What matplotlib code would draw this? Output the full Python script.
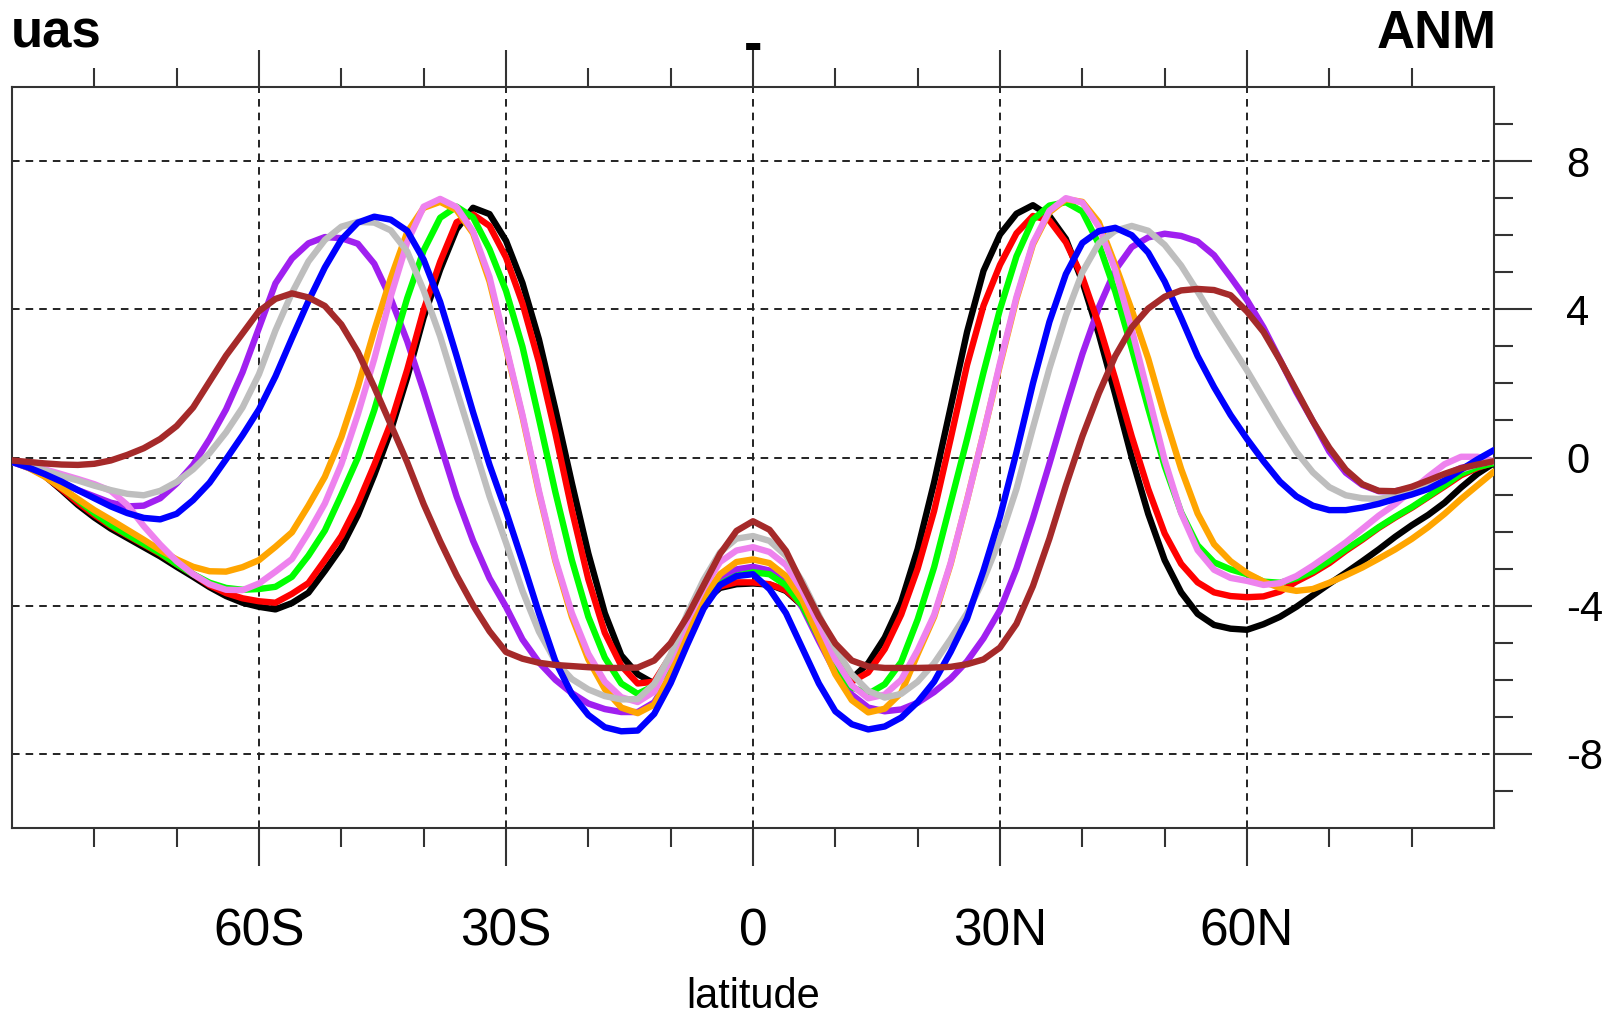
import matplotlib
matplotlib.use('Agg')
import matplotlib.pyplot as plt
import numpy as np

plt.rcParams['font.family'] = ['Liberation Sans', 'DejaVu Sans']

# zonal-mean surface zonal wind, one profile per run, 2-degree latitude grid
lat = np.arange(-90, 91, 2)

uas_black = [
    -0.10, -0.25, -0.50, -0.88, -1.28, -1.62, -1.92, -2.17, -2.42, -2.67,
    -2.95, -3.22, -3.50, -3.74, -3.92, -4.03, -4.10, -3.93, -3.65, -3.06,
    -2.43, -1.56, -0.47, 0.72, 2.16, 3.78, 5.07, 6.16, 6.74, 6.57,
    5.85, 4.71, 3.19, 1.30, -0.69, -2.59, -4.20, -5.34, -5.85, -6.10,
    -5.50, -4.58, -3.90, -3.52, -3.42, -3.40, -3.43, -3.60, -4.00, -4.70,
    -5.50, -5.97, -5.55, -4.86, -3.90, -2.47, -0.67, 1.35, 3.39, 5.04,
    6.02, 6.58, 6.81, 6.52, 5.90, 4.75, 3.33, 1.70, 0.00, -1.52,
    -2.77, -3.64, -4.22, -4.52, -4.62, -4.65, -4.50, -4.30, -4.03, -3.72,
    -3.41, -3.11, -2.80, -2.48, -2.14, -1.83, -1.55, -1.22, -0.81, -0.44,
    -0.15]

uas_red = [
    -0.10, -0.25, -0.50, -0.85, -1.22, -1.55, -1.85, -2.10, -2.35, -2.60,
    -2.88, -3.15, -3.45, -3.66, -3.80, -3.88, -3.92, -3.68, -3.39, -2.77,
    -2.12, -1.25, -0.20, 0.93, 2.37, 3.99, 5.28, 6.35, 6.56, 6.25,
    5.40, 4.16, 2.57, 0.65, -1.42, -3.29, -4.73, -5.62, -6.10, -6.05,
    -5.35, -4.49, -3.83, -3.48, -3.37, -3.37, -3.42, -3.58, -3.98, -4.65,
    -5.45, -6.05, -5.80, -5.17, -4.24, -3.00, -1.44, 0.50, 2.50, 4.10,
    5.20, 6.05, 6.52, 6.40, 5.81, 4.87, 3.59, 2.12, 0.57, -0.85,
    -2.05, -2.87, -3.37, -3.64, -3.74, -3.77, -3.75, -3.62, -3.35, -3.12,
    -2.85, -2.52, -2.22, -1.90, -1.62, -1.36, -1.07, -0.78, -0.48, -0.28,
    -0.13]

uas_green = [
    -0.10, -0.25, -0.48, -0.80, -1.15, -1.50, -1.82, -2.08, -2.33, -2.58,
    -2.88, -3.15, -3.38, -3.52, -3.57, -3.55, -3.49, -3.22, -2.65, -1.97,
    -1.01, -0.01, 1.28, 2.80, 4.30, 5.59, 6.47, 6.77, 6.48, 5.62,
    4.50, 2.99, 1.05, -0.94, -2.77, -4.30, -5.40, -6.10, -6.38, -6.16,
    -5.66, -4.75, -3.91, -3.41, -3.19, -3.10, -3.15, -3.45, -4.00, -4.85,
    -5.70, -6.20, -6.38, -6.12, -5.52, -4.37, -2.96, -1.23, 0.50, 2.30,
    4.00, 5.43, 6.42, 6.80, 6.89, 6.64, 5.76, 4.48, 2.95, 1.33,
    -0.23, -1.48, -2.37, -2.83, -3.02, -3.15, -3.35, -3.38, -3.26, -3.07,
    -2.79, -2.48, -2.19, -1.88, -1.60, -1.34, -1.05, -0.75, -0.44, -0.26,
    -0.15]

uas_orange = [
    -0.10, -0.28, -0.52, -0.82, -1.12, -1.42, -1.68, -1.95, -2.22, -2.50,
    -2.75, -2.95, -3.07, -3.08, -2.96, -2.77, -2.41, -2.02, -1.30, -0.52,
    0.55, 1.90, 3.43, 4.84, 6.08, 6.74, 6.90, 6.68, 6.05, 4.75,
    2.95, 1.10, -0.95, -2.80, -4.30, -5.45, -6.25, -6.75, -6.90, -6.67,
    -5.84, -4.81, -3.77, -3.15, -2.82, -2.75, -2.85, -3.20, -3.85, -4.85,
    -5.85, -6.55, -6.88, -6.78, -6.35, -5.30, -4.30, -2.88, -1.15, 0.65,
    2.50, 4.28, 5.75, 6.62, 6.97, 6.90, 6.35, 5.20, 3.98, 2.67,
    1.12, -0.31, -1.51, -2.34, -2.80, -3.12, -3.35, -3.52, -3.60, -3.55,
    -3.38, -3.18, -2.97, -2.73, -2.48, -2.20, -1.88, -1.52, -1.12, -0.75,
    -0.38]

uas_violet = [
    -0.10, -0.20, -0.32, -0.45, -0.58, -0.72, -0.90, -1.28, -1.85, -2.35,
    -2.80, -3.15, -3.42, -3.57, -3.58, -3.40, -3.08, -2.74, -2.03, -1.24,
    -0.18, 1.16, 2.66, 4.35, 5.81, 6.77, 6.98, 6.76, 6.10, 4.87,
    3.00, 1.15, -0.90, -2.75, -4.20, -5.30, -6.05, -6.47, -6.60, -6.32,
    -5.44, -4.42, -3.53, -2.82, -2.51, -2.42, -2.55, -2.90, -3.60, -4.50,
    -5.45, -6.15, -6.50, -6.40, -6.00, -5.20, -4.25, -2.85, -1.15, 0.65,
    2.55, 4.33, 5.79, 6.66, 7.00, 6.88, 6.23, 5.06, 3.46, 1.70,
    -0.07, -1.50, -2.50, -3.03, -3.25, -3.33, -3.44, -3.39, -3.20, -2.92,
    -2.61, -2.29, -1.93, -1.57, -1.26, -0.89, -0.52, -0.18, 0.02, 0.02,
    -0.10]

uas_gray = [
    -0.12, -0.22, -0.35, -0.50, -0.62, -0.76, -0.88, -0.98, -1.02, -0.90,
    -0.66, -0.32, 0.12, 0.68, 1.35, 2.25, 3.43, 4.44, 5.29, 5.87,
    6.23, 6.36, 6.34, 6.13, 5.56, 4.51, 3.27, 1.82, 0.39, -1.05,
    -2.30, -3.60, -4.70, -5.50, -5.98, -6.26, -6.44, -6.53, -6.52, -6.11,
    -5.31, -4.22, -3.30, -2.56, -2.19, -2.12, -2.25, -2.65, -3.35, -4.25,
    -5.15, -5.85, -6.30, -6.48, -6.38, -6.05, -5.55, -4.90, -4.20, -3.30,
    -2.20, -0.85, 0.80, 2.40, 3.82, 5.00, 5.78, 6.12, 6.25, 6.12,
    5.74, 5.18, 4.48, 3.75, 3.05, 2.35, 1.60, 0.85, 0.15, -0.40,
    -0.80, -1.02, -1.10, -1.12, -1.04, -0.90, -0.72, -0.52, -0.33, -0.18,
    -0.10]

uas_blue = [
    -0.12, -0.27, -0.45, -0.65, -0.88, -1.10, -1.32, -1.50, -1.63, -1.67,
    -1.52, -1.15, -0.68, -0.05, 0.60, 1.30, 2.19, 3.22, 4.22, 5.13,
    5.88, 6.34, 6.50, 6.42, 6.12, 5.34, 4.20, 2.74, 1.22, -0.20,
    -1.45, -2.80, -4.20, -5.50, -6.39, -6.95, -7.28, -7.39, -7.37, -6.92,
    -6.09, -5.06, -4.08, -3.44, -3.20, -3.15, -3.55, -4.20, -5.15, -6.10,
    -6.85, -7.20, -7.34, -7.26, -7.02, -6.60, -6.05, -5.25, -4.35, -3.05,
    -1.60, 0.14, 2.00, 3.66, 4.95, 5.79, 6.11, 6.20, 6.00, 5.53,
    4.75, 3.77, 2.74, 1.90, 1.15, 0.50, -0.10, -0.65, -1.05, -1.30,
    -1.42, -1.42, -1.35, -1.25, -1.12, -1.00, -0.85, -0.62, -0.33, -0.05,
    0.20]

uas_purple = [
    -0.12, -0.28, -0.47, -0.68, -0.88, -1.05, -1.22, -1.32, -1.30, -1.10,
    -0.70, -0.20, 0.50, 1.30, 2.30, 3.50, 4.70, 5.37, 5.78, 5.95,
    5.92, 5.77, 5.23, 4.29, 3.14, 1.79, 0.37, -1.05, -2.25, -3.26,
    -4.03, -4.91, -5.53, -6.00, -6.36, -6.64, -6.79, -6.87, -6.87, -6.61,
    -5.89, -4.86, -3.90, -3.30, -3.02, -2.95, -3.05, -3.40, -4.05, -4.95,
    -5.80, -6.40, -6.75, -6.85, -6.80, -6.62, -6.33, -5.97, -5.50, -4.88,
    -4.12, -3.00, -1.64, -0.17, 1.35, 2.79, 4.05, 5.06, 5.68, 5.94,
    6.04, 5.98, 5.83, 5.46, 4.87, 4.25, 3.51, 2.64, 1.76, 0.98,
    0.16, -0.41, -0.74, -0.91, -0.91, -0.83, -0.64, -0.47, -0.28, -0.18,
    -0.10]

uas_brown = [
    -0.08, -0.12, -0.16, -0.19, -0.20, -0.17, -0.08, 0.07, 0.25, 0.50,
    0.85, 1.35, 2.05, 2.75, 3.35, 3.95, 4.28, 4.43, 4.32, 4.09,
    3.59, 2.85, 1.90, 0.89, -0.13, -1.26, -2.26, -3.18, -3.99, -4.69,
    -5.25, -5.43, -5.54, -5.60, -5.63, -5.66, -5.68, -5.68, -5.67, -5.48,
    -5.01, -4.30, -3.45, -2.60, -1.98, -1.72, -1.95, -2.52, -3.43, -4.30,
    -5.02, -5.48, -5.64, -5.68, -5.68, -5.68, -5.67, -5.65, -5.58, -5.45,
    -5.13, -4.49, -3.47, -2.19, -0.76, 0.57, 1.73, 2.74, 3.51, 4.02,
    4.34, 4.51, 4.55, 4.52, 4.38, 3.94, 3.39, 2.63, 1.81, 0.98,
    0.26, -0.33, -0.72, -0.90, -0.91, -0.79, -0.62, -0.44, -0.29, -0.19,
    -0.10]

xtick_pos = [-60, -30, 0, 30, 60]
xtick_labels = ['60S', '30S', '0', '30N', '60N']
ytick_pos = [-8, -4, 0, 4, 8]
ytick_labels = ['-8', '-4', '0', '4', '8']

# drawing order matters: later runs sit on top where they overlap
runs = [
    (uas_black, 'black'),
    (uas_purple, '#a020f0'),
    (uas_red, '#ff0000'),
    (uas_green, '#00ff00'),
    (uas_orange, '#ffa500'),
    (uas_violet, '#ee82ee'),
    (uas_gray, '#bebebe'),
    (uas_blue, '#0000ff'),
    (uas_brown, '#a52a2a'),
]

W, H = 1614, 1016
fig = plt.figure(figsize=(W / 100, H / 100), dpi=100)
ax = fig.add_axes([12 / W, 1 - 828 / H, (1494 - 12) / W, (828 - 87) / H])

for vals, col in runs:
    ax.plot(lat, vals, color=col, lw=4.6, solid_joinstyle='round',
            solid_capstyle='round', zorder=3)

ax.set_xlim(-90, 90)
ax.set_ylim(-10, 10)

ax.set_xticks(xtick_pos)
ax.set_xticklabels(xtick_labels, fontsize=37)
ax.set_xticks(np.arange(-80, 81, 10), minor=True)
ax.yaxis.tick_right()
ax.set_yticks(ytick_pos)
ax.set_yticklabels(ytick_labels, fontsize=30)
ax.set_yticks(np.arange(-9, 10, 1), minor=True)

ax.tick_params(axis='x', which='both', direction='out', top=True, bottom=True,
               labeltop=False, color='#333333', width=1.5)
ax.tick_params(axis='x', which='major', length=27, pad=30)
ax.tick_params(axis='x', which='minor', length=13.5)
ax.tick_params(axis='y', which='both', direction='out', left=False, right=True,
               labelleft=False, labelright=True, color='#333333', width=1.5)
ax.tick_params(axis='y', which='major', length=27, pad=25)
ax.tick_params(axis='y', which='minor', length=13.5)

for sp in ax.spines.values():
    sp.set_linewidth(1.5)
    sp.set_color('#333333')

ax.grid(True, which='major', color='#222222', linewidth=1.4,
        linestyle=(0, (3.9, 3.1)), zorder=1)
ax.set_axisbelow(True)

fig.text(11 / W, 1 - 48 / H, 'uas', fontsize=38, fontweight='bold',
         ha='left', va='baseline')
fig.text(1497 / W, 1 - 48 / H, 'ANM', fontsize=38, fontweight='bold',
         ha='right', va='baseline')
fig.text(753 / W, 1 - 61 / H, '-', fontsize=40, ha='center', va='baseline',
         fontweight='bold')
fig.text(753 / W, 1 - 1008 / H, 'latitude', fontsize=30, ha='center',
         va='baseline')

fig.savefig('out.png', dpi=100)
